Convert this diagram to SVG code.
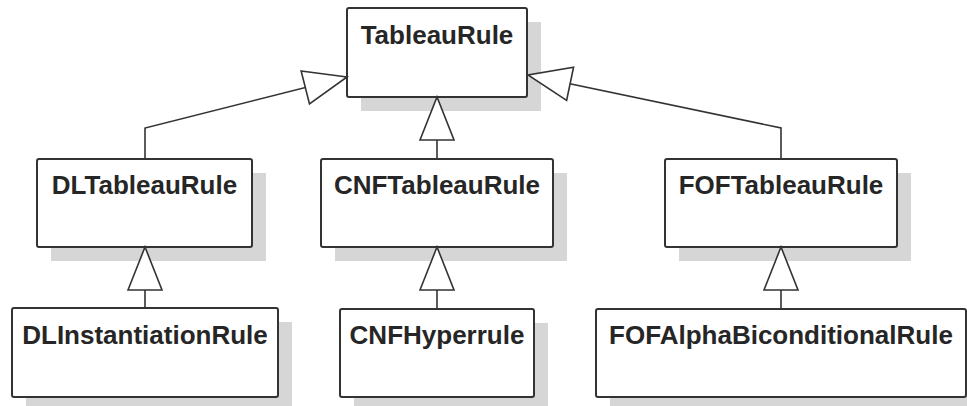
<svg xmlns="http://www.w3.org/2000/svg" width="967" height="406" viewBox="0 0 967 406">
  <style>
    .shadow { fill: #d6d6d6; }
    .box { fill: #ffffff; stroke: #333333; stroke-width: 2; }
    .label { font-family: "Liberation Sans", Arial, sans-serif; font-weight: bold; font-size: 26px; fill: #262626; text-anchor: middle; }
    .edge { fill: none; stroke: #333333; stroke-width: 1.6; marker-end: url(#generalization); }
  </style>
  <defs>
    <!-- hollow triangle for UML generalization, tip sits on the path end -->
    <marker id="generalization" markerUnits="userSpaceOnUse" markerWidth="46" markerHeight="38" refX="43" refY="17" orient="auto" overflow="visible">
      <path d="M0,0 L43,17 L0,34 Z" fill="#ffffff" stroke="#333333" stroke-width="1.6" stroke-linejoin="miter"/>
    </marker>
  </defs>
  <rect width="967" height="406" fill="#ffffff"/>

  <g id="node-TableauRule">
    <rect class="shadow" x="361" y="22" width="180" height="89"/>
    <rect class="box" x="347" y="8" width="180" height="89" rx="2"/>
    <text class="label" x="437" y="44">TableauRule</text>
  </g>

  <g id="node-DLTableauRule">
    <rect class="shadow" x="51" y="173" width="215" height="88"/>
    <rect class="box" x="37" y="159" width="215" height="88" rx="2"/>
    <text class="label" x="144.5" y="194">DLTableauRule</text>
  </g>

  <g id="node-CNFTableauRule">
    <rect class="shadow" x="335" y="173" width="232" height="88"/>
    <rect class="box" x="321" y="159" width="232" height="88" rx="2"/>
    <text class="label" x="437" y="194">CNFTableauRule</text>
  </g>

  <g id="node-FOFTableauRule">
    <rect class="shadow" x="679" y="173" width="232" height="88"/>
    <rect class="box" x="665" y="159" width="232" height="88" rx="2"/>
    <text class="label" x="781" y="194">FOFTableauRule</text>
  </g>

  <g id="node-DLInstantiationRule">
    <rect class="shadow" x="26" y="322" width="266" height="89"/>
    <rect class="box" x="12" y="308" width="266" height="89" rx="2"/>
    <text class="label" x="145" y="344">DLInstantiationRule</text>
  </g>

  <g id="node-CNFHyperrule">
    <rect class="shadow" x="354" y="323" width="194" height="88"/>
    <rect class="box" x="340" y="309" width="194" height="88" rx="2"/>
    <text class="label" x="437" y="344">CNFHyperrule</text>
  </g>

  <g id="node-FOFAlphaBiconditionalRule">
    <rect class="shadow" x="610" y="323" width="370" height="88"/>
    <rect class="box" x="596" y="309" width="370" height="88" rx="2"/>
    <text class="label" x="781" y="344">FOFAlphaBiconditionalRule</text>
  </g>

  <g id="connectors">
    <path class="edge" d="M145,159 L145,128 L347,77"/>
    <path class="edge" d="M437,159 L437,97"/>
    <path class="edge" d="M781,159 L781,128 L528,75"/>
    <path class="edge" d="M145,308 L145,247"/>
    <path class="edge" d="M437,309 L437,247"/>
    <path class="edge" d="M781,309 L781,247"/>
  </g>
</svg>
